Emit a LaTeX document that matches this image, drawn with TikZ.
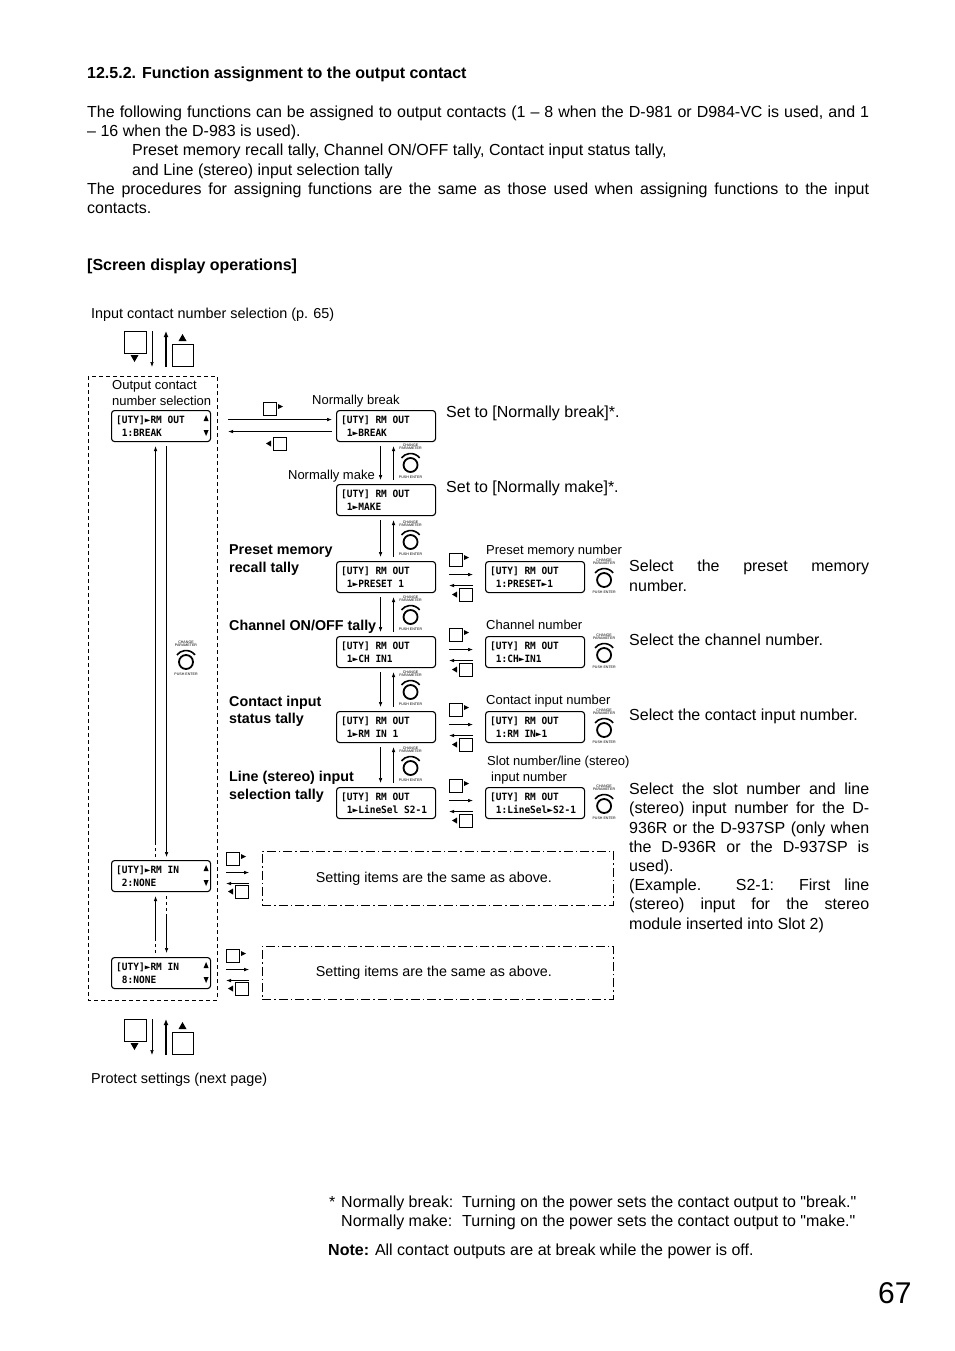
\documentclass[tikz,border=0pt]{standalone}
\usepackage{fontspec}
\setmainfont{Liberation Sans}[Ligatures=TeXOff]
\newfontfamily\lcdfont[FakeStretch=0.95]{DejaVu Sans Mono}
\usetikzlibrary{arrows.meta,calc}
\tikzset{
  txt/.style={anchor=base west, inner sep=0pt, font=\fontsize{16}{19}\selectfont},
  lab/.style={anchor=base west, inner sep=0pt, font=\fontsize{13}{15}\selectfont},
  blab/.style={anchor=base west, inner sep=0pt, font=\fontsize{14.3}{16}\selectfont\bfseries},
  lcdbox/.style={draw, line width=1.1pt, rounded corners=3pt, minimum width=99pt, minimum height=31pt, inner sep=0pt, anchor=north west},
  lcdtxt/.style={anchor=base west, inner sep=0pt, font=\lcdfont\bfseries\fontsize{10}{10}\selectfont},
  arr/.style={-{Latex[length=5pt,width=3.6pt]}, line width=0.7pt},
  tinyt/.style={inner sep=0pt, font=\fontsize{3.6}{4}\selectfont},
  ddbox/.style={draw, line width=0.8pt, dash pattern=on 9pt off 3pt on 1.5pt off 3pt, anchor=north west, inner sep=0pt},
  ddtxt/.style={inner sep=0pt, font=\fontsize{14.3}{16}\selectfont},
  knob/.pic={
    \node[tinyt] (-c) at (0,-20) {CHANGE};
    \node[tinyt] (-p) at (0,-16.5) {PARAMETER};
    \draw[line width=1.6pt] (-38:11.5) arc[start angle=-38, end angle=-142, radius=11.5];
    \draw[line width=1.8pt] (0,0) circle[radius=7];
    \node[tinyt] (-e) at (0,12.5) {PUSH ENTER};
  },
  rbtn/.pic={
    \draw[line width=0.8pt] (0,0) rectangle (13,13);
    \fill (15,2) -- (20,4.5) -- (15,7) -- cycle;
  },
  lbtn/.pic={
    \fill (5,3.5) -- (0,6.5) -- (5,9.5) -- cycle;
    \draw[line width=0.8pt] (7,0) rectangle (20,13);
  },
  bigdown/.pic={
    \draw[line width=0.9pt] (0,0) rectangle (22,22);
    \fill (6.5,24) -- (14.5,24) -- (10.5,31) -- cycle;
  },
  bigup/.pic={
    \draw[line width=0.9pt] (0,0) rectangle (21,22);
    \fill (6.5,-3) -- (14.5,-3) -- (10.5,-10) -- cycle;
  }
}
\newcommand\lcd[5]{%
  \node[lcdbox] (#1) at (#2,#3) {};
  \node[lcdtxt] (#1-a) at ([shift={(5,13)}]#1.north west) {#4};
  \node[lcdtxt] (#1-b) at ([shift={(5,26.5)}]#1.north west) {\hphantom{0}#5};
}
\newcommand\lcdud[1]{%
  \fill ($(#1.north east)+(-7.5,11)$) -- ++(5,0) -- ++(-2.5,-6) -- cycle;
  \fill ($(#1.north east)+(-7.5,20)$) -- ++(5,0) -- ++(-2.5,6) -- cycle;
}
\newcommand\tri{►}
\begin{document}
\begin{tikzpicture}[x=1pt,y=-1pt]
\useasboundingbox (0,0) rectangle (954,1351);
\fill[white] (0,0) rectangle (954,1351);

% heading and paragraph
\node[txt, font=\fontsize{16}{19}\selectfont\bfseries] (title) at (87,79) {12.5.2. Function assignment to the output contact};
\node[txt] (p1) at (87,118) {\makebox[782pt][s]{The following functions can be assigned to output contacts (1 – 8 when the D-981 or D984-VC is used, and 1}};
\node[txt] (p2) at (87,137) {– 16 when the D-983 is used).};
\node[txt] (p3) at (132,156) {Preset memory recall tally, Channel ON/OFF tally, Contact input status tally,};
\node[txt] (p4) at (132,176) {and Line (stereo) input selection tally};
\node[txt] (p5) at (87,195) {\makebox[782pt][s]{The procedures for assigning functions are the same as those used when assigning functions to the input}};
\node[txt] (p6) at (87,214) {contacts.};
\node[txt, font=\fontsize{16}{19}\selectfont\bfseries] (sdo) at (87,270) {[Screen display operations]};

\node[lab, font=\fontsize{14.4}{16}\selectfont] (inlab) at (91,318) {Input contact number selection (p. 65)};

% top navigation icons
\pic (bd1) at (124,331) {bigdown};
\draw[arr] (152,331) coordinate (t1a) -- (152,367) coordinate (t1b);
\draw[-{Latex[length=6pt,width=5pt]}, line width=2.2pt] (166,367) coordinate (t2a) -- (166,331) coordinate (t2b);
\pic (bu1) at (172,344) {bigup};

% left dashed box
\draw[dash pattern=on 4pt off 3pt, line width=0.8pt] (88,376) rectangle (217,1000);
\node[lab] (oc1) at (112,389.5) {Output contact};
\node[lab] (oc2) at (112,405.5) {number selection};

% left LCDs
\lcd{l1}{111}{410}{[UTY]\tri RM OUT}{1:BREAK}
\lcdud{l1}
\lcd{l2}{111}{860}{[UTY]\tri RM IN}{2:NONE}
\lcdud{l2}
\lcd{l3}{111}{957}{[UTY]\tri RM IN}{8:NONE}
\lcdud{l3}

% left vertical arrows
\draw[arr] ([shift={(5.5,4)}]l1.south) -- ([shift={(5.5,-3)}]l2.north);
\draw[dashed, line width=0.7pt] ([shift={(-5.5,-3)}]l2.north) -- ++(0,-15);
\draw[arr] ([shift={(-5.5,-18)}]l2.north) -- ([shift={(-5.5,4)}]l1.south);
\draw[dashed, line width=0.7pt] ([shift={(-5.5,-4)}]l3.north) -- ++(0,-13);
\draw[arr] ([shift={(-5.5,-17)}]l3.north) -- ([shift={(-5.5,4)}]l2.south);
\draw[dashed, line width=0.7pt] ([shift={(5.5,4)}]l2.south) -- ++(0,20);
\draw[arr] ([shift={(5.5,24)}]l2.south) -- ([shift={(5.5,-4)}]l3.north);
\pic (kl) at (186,662) {knob};

% middle LCDs
\lcd{m1}{336}{410}{[UTY] RM OUT}{1\tri BREAK}
\lcd{m2}{336}{484}{[UTY] RM OUT}{1\tri MAKE}
\lcd{m3}{336}{561}{[UTY] RM OUT}{1\tri PRESET 1}
\lcd{m4}{336}{636}{[UTY] RM OUT}{1\tri CH IN1}
\lcd{m5}{336}{711}{[UTY] RM OUT}{1\tri RM IN 1}
\lcd{m6}{336}{787}{[UTY] RM OUT}{1\tri LineSel S2-1}

% l1 <-> m1
\pic (b1r) at (263,402) {rbtn};
\draw[arr] ([shift={(17,-6.5)}]l1.east) -- ([shift={(-4,-6.5)}]m1.west);
\draw[arr] ([shift={(-4,5.5)}]m1.west) -- ([shift={(17,5.5)}]l1.east);
\pic (b1l) at (266,437) {lbtn};
\node[lab] (nb) at (312,404.5) {Normally break};
\node[lab, anchor=base east] (nm) at (375,479.5) {Normally make};
\node[txt] (s1) at (446,417.5) {Set to [Normally break]*.};
\node[txt] (s2) at (446,492.5) {Set to [Normally make]*.};

% middle vertical arrows and knobs
\foreach \a/\b in {m1/m2,m2/m3,m3/m4,m4/m5,m5/m6}{
  \draw[arr] ([shift={(-5.5,4)}]\a.south) -- ([shift={(-5.5,-4)}]\b.north);
  \draw[arr] ([shift={(7.5,-4)}]\b.north) -- ([shift={(7.5,4)}]\a.south);
  \pic (k\b) at ($(\b.north)+(24.5,-19)$) {knob};
}

% function labels
\node[blab] (f1a) at (229,554) {Preset memory};
\node[blab] (f1b) at (229,572) {recall tally};
\node[blab] (f2a) at (229,630) {Channel ON/OFF tally};
\node[blab] (f3a) at (229,706) {Contact input};
\node[blab] (f3b) at (229,723) {status tally};
\node[blab] (f4a) at (229,781) {Line (stereo) input};
\node[blab] (f4b) at (229,799) {selection tally};

% right LCDs
\lcd{r1}{485}{561}{[UTY] RM OUT}{1:PRESET\tri 1}
\lcd{r2}{485}{636}{[UTY] RM OUT}{1:CH\tri IN1}
\lcd{r3}{485}{711}{[UTY] RM OUT}{1:RM IN\tri 1}
\lcd{r4}{485}{787}{[UTY] RM OUT}{1:LineSel\tri S2-1}
\foreach \m/\r in {m3/r1,m4/r2,m5/r3,m6/r4}{
  \pic (bt\r) at ($(\r.north west)+(-36,-8)$) {rbtn};
  \draw[arr] ([shift={(13,-2.5)}]\m.east) -- ([shift={(-12,-2.5)}]\r.west);
  \draw[arr] ([shift={(-12,8.5)}]\r.west) -- ([shift={(13,8.5)}]\m.east);
  \pic (bb\r) at ($(\r.north west)+(-33,27)$) {lbtn};
  \pic (k\r) at ($(\r.north east)+(19,19)$) {knob};
}
\node[lab] (rl1) at (486,554.5) {Preset memory number};
\node[lab] (rl2) at (486,629.5) {Channel number};
\node[lab] (rl3) at (486,704.5) {Contact input number};
\node[lab] (rl4) at (487,765.5) {Slot number/line (stereo)};
\node[lab] (rl5) at (491,781.5) {input number};

% right descriptions
\node[txt] (d1) at (629,571.5) {\makebox[240pt][s]{Select the preset memory}};
\node[txt] (d2) at (629,591.5) {number.};
\node[txt] (d3) at (629,645.5) {Select the channel number.};
\node[txt] (d4) at (629,720.5) {Select the contact input number.};
\node[txt] (d5) at (629,794.5) {\makebox[240pt][s]{Select the slot number and line}};
\node[txt] (d6) at (629,813.5) {\makebox[240pt][s]{(stereo) input number for the D-}};
\node[txt] (d7) at (629,833.5) {\makebox[240pt][s]{936R or the D-937SP (only when}};
\node[txt] (d8) at (629,852.5) {\makebox[240pt][s]{the D-936R or the D-937SP is}};
\node[txt] (d9) at (629,871.5) {used).};
\node[txt] (d10) at (629,890.5) {\makebox[240pt][s]{(Example. S2-1: First line}};
\node[txt] (d11) at (629,909.5) {\makebox[240pt][s]{(stereo) input for the stereo}};
\node[txt] (d12) at (629,929.5) {module inserted into Slot 2)};

% RM IN rows
\node[ddbox, minimum width=351pt, minimum height=54pt] (same1) at (262,851) {};
\node[ddtxt] (same1t) at ([xshift=-4pt]same1.center) {Setting items are the same as above.};
\node[ddbox, minimum width=351pt, minimum height=53pt] (same2) at (262,946) {};
\node[ddtxt] (same2t) at ([xshift=-4pt]same2.center) {Setting items are the same as above.};
\pic (b2r) at (226,852) {rbtn};
\draw[arr] ([shift={(15,-3.5)}]l2.east) -- ++(23,0);
\draw[arr] ([shift={(38,7.5)}]l2.east) -- ++(-23,0);
\pic (b2l) at (228,885) {lbtn};
\pic (b3r) at (226,949) {rbtn};
\draw[arr] ([shift={(15,-3.5)}]l3.east) -- ++(23,0);
\draw[arr] ([shift={(38,7.5)}]l3.east) -- ++(-23,0);
\pic (b3l) at (228,982) {lbtn};

% bottom navigation icons
\pic (bd2) at (124,1019) {bigdown};
\draw[arr] (152,1019) coordinate (t3a) -- (152,1055) coordinate (t3b);
\draw[-{Latex[length=6pt,width=5pt]}, line width=2.2pt] (166,1055) coordinate (t4a) -- (166,1019) coordinate (t4b);
\pic (bu2) at (172,1032) {bigup};
\node[lab, font=\fontsize{14.4}{16}\selectfont] (prot) at (91,1083) {Protect settings (next page)};

% footnotes
\node[txt] (fs) at (329,1207.5) {*};
\node[txt] (fn1) at (341,1207.5) {Normally break:};
\node[txt] (fn1b) at (462,1207.5) {Turning on the power sets the contact output to "break."};
\node[txt] (fn2) at (341,1226.5) {Normally make:};
\node[txt] (fn2b) at (462,1226.5) {Turning on the power sets the contact output to "make."};
\node[txt] (note) at (328,1255.5) {\textbf{Note:} All contact outputs are at break while the power is off.};
\node[txt, font=\fontsize{30}{32}\selectfont] (pg) at (878,1303) {67};
\end{tikzpicture}
\end{document}
